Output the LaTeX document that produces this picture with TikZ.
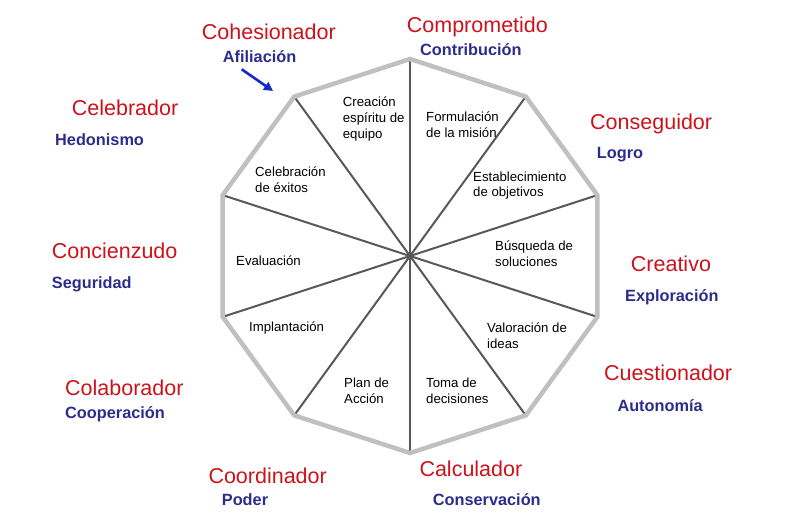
\documentclass[tikz,border=0pt]{standalone}
\usepackage{fontspec}
\setmainfont{Liberation Sans}
\usepackage{xcolor}
\usetikzlibrary{arrows.meta,calc}
\definecolor{rolered}{RGB}{204,18,26}
\definecolor{valblue}{RGB}{44,44,140}
\definecolor{arrblue}{RGB}{20,40,205}
\definecolor{rimgray}{RGB}{192,192,192}
\definecolor{spokegray}{RGB}{88,88,88}
\tikzset{
	role/.style={anchor=base west, inner sep=0pt, text=rolered,
			font=\fontsize{21.5}{24}\selectfont},
	value/.style={anchor=base west, inner sep=0pt, text=valblue,
			font=\bfseries\fontsize{16.3}{19}\selectfont},
	task/.style={anchor=west, inner sep=0pt, align=left,
			font=\fontsize{13.2}{15.6}\selectfont}
}

\begin{document}
\begin{tikzpicture}[x=1pt,y=-1pt,>={Triangle[length=9pt,width=9pt]}]
		\useasboundingbox (0,0) rectangle (786,532);
		%--- Decagon ---
		\coordinate (c) at (410,256);
		\foreach \i in {0,...,9}
			\coordinate (v\i) at ($(c)+(-90+36*\i:197)$);
		\foreach \i in {0,...,9}
			\draw[spokegray, line width=2pt] (c) -- (v\i);
		\draw[rimgray, line width=4.5pt, line join=miter]
			(v0) -- (v1) -- (v2) -- (v3) -- (v4) -- (v5) -- (v6) -- (v7) -- (v8) -- (v9) -- cycle;

		%--- Tasks in the sectors ---
		\node[task] (creac) at (342.7,119) {Creación\\espíritu de\\equipo};
		\node[task] (formul) at (426,124.5) {Formulación\\de la misión};
		\node[task] (celeb) at (255,179.5) {Celebración\\de éxitos};
		\node[task] (establ) at (473,185.5) {Establecimiento\\de objetivos};
		\node[task] (evalua) at (236,261) {Evaluación};
		\node[task] (busq) at (495,254) {Búsqueda de\\soluciones};
		\node[task] (implan) at (249,328) {Implantación};
		\node[task] (valor) at (487,336) {Valoración de\\ideas};
		\node[task] (plan) at (344,390.5) {Plan de\\Acción};
		\node[task] (toma) at (426,390.5) {Toma de\\decisiones};

		%--- Roles and values ---
		\node[role] (compr) at (406.7,32.3) {Comprometido};
		\node[value] (contr) at (420,56) {Contribución};
		\node[role] (cohes) at (201.7,40) {Cohesionador};
		\node[value] (afil) at (222.7,62.7) {Afiliación};
		\node[role] (celebr) at (71.7,115) {Celebrador};
		\node[value] (hedon) at (55,145) {Hedonismo};
		\node[role] (consig) at (590,129.3) {Conseguidor};
		\node[value] (logro) at (596.7,158.7) {Logro};
		\node[role] (concz) at (51.7,258.3) {Concienzudo};
		\node[value] (segur) at (51.7,288.3) {Seguridad};
		\node[role] (creat) at (630.7,271.7) {Creativo};
		\node[value] (explo) at (625,301.7) {Exploración};
		\node[role] (colab) at (65,395) {Colaborador};
		\node[value] (coop) at (65,418.3) {Cooperación};
		\node[role] (cuest) at (604,380.7) {Cuestionador};
		\node[value] (auton) at (617.3,411) {Autonomía};
		\node[role] (coord) at (208.3,483.3) {Coordinador};
		\node[value] (poder) at (221.7,505) {Poder};
		\node[role] (calc) at (419.3,476) {Calculador};
		\node[value] (conse) at (432.7,505) {Conservación};

		%--- Arrow to the decagon ---
		\coordinate (arrtail) at (241.7,69.3);
		\coordinate (arrtip) at (273,91);
		\draw[->, arrblue, line width=2.6pt] (arrtail) -- (arrtip);
	\end{tikzpicture}
\end{document}
